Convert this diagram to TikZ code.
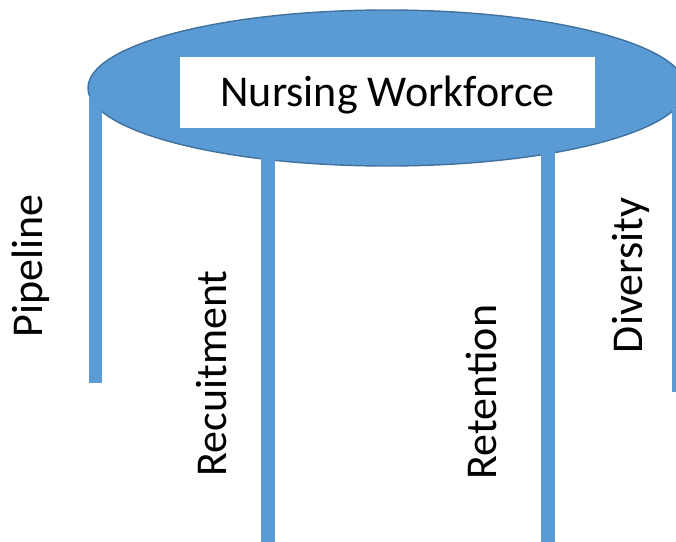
\documentclass[tikz,border=0pt]{standalone}
\usepackage{fontspec}
\setmainfont{Carlito}
\usetikzlibrary{shapes.geometric}
\definecolor{pillarblue}{RGB}{91,155,213}
\definecolor{edgeblue}{RGB}{65,113,156}

\begin{document}
\begin{tikzpicture}[x=1pt,y=-1pt,
  roof/.style={ellipse,draw=edgeblue,line width=1.4pt,fill=pillarblue,
   inner sep=0pt,minimum width=598pt,minimum height=156pt},
  title box/.style={fill=white,inner sep=0pt,minimum width=415pt,
   minimum height=71pt,text height=27pt,text depth=0pt,
   font=\fontsize{44}{50}\selectfont},
  pillar/.style={draw=pillarblue,line width=13.5pt},
  pillar label/.style={rotate=90,anchor=base,inner sep=0pt,
   font=\fontsize{44}{50}\selectfont}]
 \useasboundingbox (0,0) rectangle (676,541);
 \clip (0,0) rectangle (676,541);
 \node[roof] (roof) at (387,88) {};
 \node[title box] (title) at (387.5,92.5) {Nursing Workforce};
 \draw[pillar] (95.5,96) -- (95.5,383);
 \draw[pillar] (268,140) -- (268,545);
 \draw[pillar] (548,140) -- (548,545);
 \draw[pillar] (678.5,108) -- (678.5,392);
 \node[pillar label] (pipeline) at (42,266) {Pipeline};
 \node[pillar label] (recruit) at (226,373.5) {Recuitment};
 \node[pillar label] (retain) at (496,392) {Retention};
 \node[pillar label] (diverse) at (642,275.5) {Diversity};
\end{tikzpicture}
\end{document}
